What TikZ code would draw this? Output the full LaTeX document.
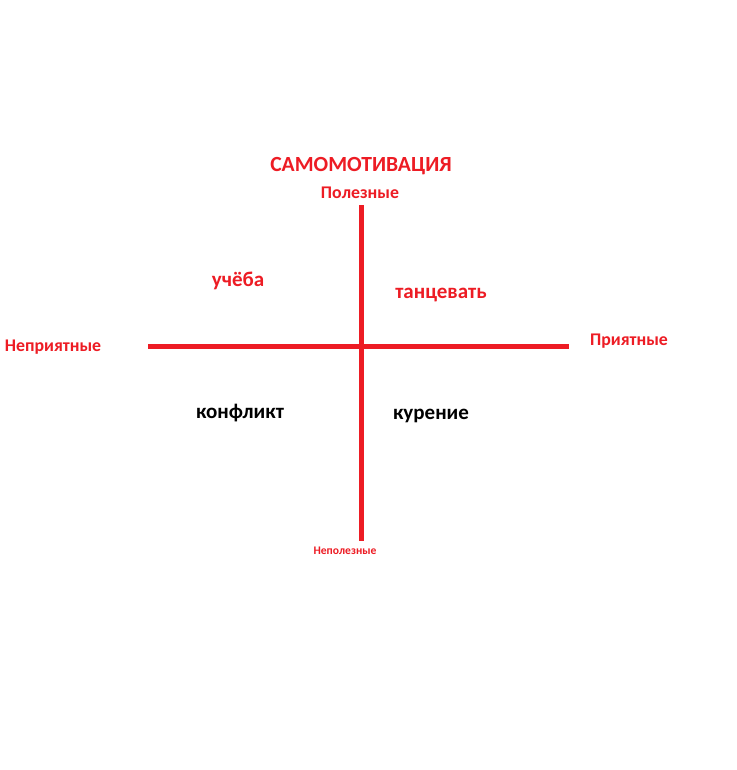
\documentclass[tikz,border=0pt]{standalone}
\usepackage{fontspec}
\setmainfont{Carlito}
\usepackage{xcolor}
\usetikzlibrary{positioning}
\definecolor{paintred}{HTML}{ED1C24}

\begin{document}
\begin{tikzpicture}[x = 1pt, y = -1pt,
  axis/.style = {draw = paintred, line width = 5pt},
  lbl/.style = {text = paintred, font = \bfseries\fontsize{17.8}{20}\selectfont, inner sep = 0},
  item/.style = {font = \bfseries\fontsize{21}{25}\selectfont, inner sep = 0}]
  \useasboundingbox[fill = white] (0, 0) rectangle (736, 770);
  % axes
  \coordinate (top) at (361, 205);
  \coordinate (bottom) at (361, 541);
  \coordinate (left) at (148, 346);
  \coordinate (right) at (569, 346);
  \draw[axis] (top) -- (bottom);
  \draw[axis] (left) -- (right);
  % labels
  \node[lbl, font = \bfseries\fontsize{21.6}{26}\selectfont] (title) at (361, 166) {САМОМОТИВАЦИЯ};
  \node[lbl] (useful) at (360, 193) {Полезные};
  \node[lbl, font = \bfseries\fontsize{11.6}{14}\selectfont] (useless) at (345, 551) {Неполезные};
  \node[lbl] (unpleasant) at (53, 347) {Неприятные};
  \node[lbl] (pleasant) at (629, 341) {Приятные};
  % quadrants
  \node[item, text = paintred] (study) at (238, 281) {учёба};
  \node[item, text = paintred] (dance) at (441, 295) {танцевать};
  \node[item] (conflict) at (240, 413) {конфликт};
  \node[item] (smoking) at (431, 416) {курение};
\end{tikzpicture}
\end{document}
